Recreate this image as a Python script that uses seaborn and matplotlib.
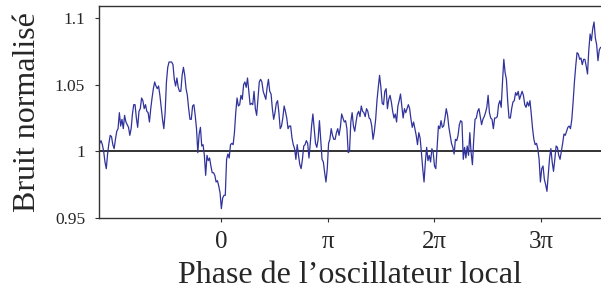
import numpy as np
import pandas as pd
import matplotlib
matplotlib.use("Agg")
import matplotlib.pyplot as plt
import seaborn as sns

# normalised noise, left to right (uniform phase steps)
noise = [
    1.006, 1.008, 1.005, 1.000, 0.992, 0.987, 0.998, 1.006, 1.012, 1.011,
    1.005, 1.002, 1.009, 1.015, 1.017, 1.029, 1.019, 1.024, 1.017, 1.027,
    1.022, 1.020, 1.018, 1.012, 1.017, 1.028, 1.035, 1.035, 1.025, 1.018,
    1.030, 1.032, 1.040, 1.038, 1.032, 1.035, 1.030, 1.029, 1.022, 1.032,
    1.040, 1.047, 1.052, 1.049, 1.047, 1.049, 1.042, 1.033, 1.024, 1.017,
    1.029, 1.052, 1.063,
    1.067, 1.067, 1.067, 1.065, 1.054, 1.049, 1.055, 1.048, 1.045, 1.045,
    1.057, 1.063, 1.057, 1.047, 1.042, 1.032, 1.024, 1.024, 1.034, 1.035,
    1.027, 1.017, 0.999, 1.013, 1.018, 1.004, 1.005, 0.997, 0.982, 0.997,
    0.993, 0.995, 0.989, 0.984, 0.984, 0.982, 0.977, 0.978, 0.974, 0.969,
    0.957, 0.965, 0.967, 0.967, 0.994, 0.998, 0.995, 1.005, 1.006, 1.005,
    1.014, 1.029, 1.040, 1.034, 1.035, 1.042,
    1.039, 1.050, 1.052, 1.048, 1.055, 1.045, 1.035, 1.036, 1.035, 1.045,
    1.032, 1.027, 1.039, 1.052, 1.054, 1.052, 1.045, 1.042, 1.039, 1.048,
    1.054, 1.045, 1.043, 1.032, 1.024, 1.029, 1.036, 1.038, 1.029, 1.017,
    1.019, 1.025, 1.034, 1.030, 1.025, 1.017, 1.019, 1.019, 1.010, 1.005,
    1.002, 0.994, 1.005, 0.997, 0.990, 0.987, 0.994, 1.004, 1.005, 1.008,
    1.006, 0.995, 1.006, 1.019, 1.028, 1.017,
    1.006, 1.003, 1.009, 1.023, 1.009, 0.994, 0.992, 0.984, 0.977, 0.987,
    1.006, 1.009, 1.017, 1.012, 1.009, 1.009, 1.014, 1.017, 1.012, 1.018,
    1.028, 1.025, 1.022, 1.023, 1.017, 0.999, 1.000, 1.022, 1.029, 1.019,
    1.015, 1.022, 1.028, 1.030, 1.026, 1.034, 1.030, 1.029, 1.026, 1.032,
    1.030, 1.025, 1.024, 1.019, 1.009, 1.015, 1.024, 1.038, 1.048, 1.057,
    1.048, 1.036, 1.035, 1.045, 1.047, 1.032,
    1.039, 1.042, 1.037, 1.030, 1.025, 1.028, 1.022, 1.034, 1.038, 1.043,
    1.034, 1.025, 1.032, 1.029, 1.032, 1.035, 1.032, 1.024, 1.018, 1.022,
    1.017, 1.012, 1.005, 1.014, 1.010, 0.999, 0.987, 0.977, 0.992, 1.003,
    0.993, 0.997, 0.992, 1.002, 0.999, 0.989, 0.987, 1.003, 1.019, 1.017,
    1.023, 1.018, 1.019, 1.025, 1.032, 1.027, 1.018, 1.012, 1.006, 1.003,
    0.998, 1.009, 1.008, 1.012, 1.020, 1.023,
    1.022, 0.994, 1.003, 0.995, 1.004, 0.997, 1.014, 0.999, 0.990, 1.009,
    1.024, 1.025, 1.030, 1.032, 1.026, 1.020, 1.024, 1.026, 1.029, 1.033,
    1.042, 1.029, 1.025, 1.024, 1.017, 1.025, 1.025, 1.026, 1.035, 1.038,
    1.033, 1.052, 1.069, 1.059, 1.054, 1.037, 1.025, 1.025, 1.032, 1.037,
    1.038, 1.044, 1.042, 1.045, 1.039, 1.042, 1.045, 1.042, 1.035, 1.033,
    1.037, 1.034, 1.038, 1.028, 1.017, 1.009, 1.005,
    1.006, 1.002, 0.994, 0.977, 0.987, 0.989, 0.979, 0.975, 0.970, 0.982,
    0.995, 1.002, 0.992, 0.985, 0.994, 1.004, 1.003, 0.997, 0.994, 1.000,
    1.006, 1.013, 1.012, 1.015, 1.018, 1.019, 1.017, 1.024, 1.037, 1.052,
    1.064, 1.074, 1.073, 1.069, 1.070, 1.065, 1.069, 1.069, 1.064, 1.058,
    1.076, 1.088, 1.083, 1.092, 1.097, 1.085, 1.080, 1.068, 1.076, 1.078,
]

# phase range covered by the trace, in units of pi
phase_start, phase_end = -1.137, 3.558
xlim_pi = (-1.144, 3.562)

xtick_pos = [0, 1, 2, 3]
xtick_labels = ["0", "π", "2π", "3π"]
ytick_pos = [0.95, 1.0, 1.05, 1.1]
ytick_labels = ["0.95", "1", "1.05", "1.1"]

df = pd.DataFrame({
    "phase": np.linspace(phase_start, phase_end, len(noise)) * np.pi,
    "noise": noise,
})

sns.set_style("ticks")
plt.rcParams["font.family"] = ["Liberation Serif", "DejaVu Serif"]

fig = plt.figure(figsize=(6.01, 2.90), dpi=100)
ax = fig.add_axes([99 / 601, 1 - 218 / 290, 502 / 601, 212 / 290])

ax.axhline(1.0, color="#222222", lw=1.3, zorder=1)
sns.lineplot(data=df, x="phase", y="noise", ax=ax, color="#31339C",
             lw=0.9, estimator=None, sort=False, zorder=2)

ax.set_xlim(xlim_pi[0] * np.pi, xlim_pi[1] * np.pi)
ax.set_ylim(0.95, 1.109)
ax.set_xticks([p * np.pi for p in xtick_pos])
ax.set_xticklabels(xtick_labels, fontsize=18)
ax.set_yticks(ytick_pos)
ax.set_yticklabels(ytick_labels, fontsize=12.5)
ax.tick_params(axis="both", direction="out", length=3, width=0.8, color="#333333")
ax.tick_params(axis="x", pad=6)
ax.tick_params(axis="y", pad=7)

ax.set_xlabel("Phase de l’oscillateur local", fontsize=23, labelpad=6)
ax.set_ylabel("Bruit normalisé", fontsize=23, labelpad=9)

for side in ["left", "top", "bottom"]:
    ax.spines[side].set_color("#333333")
    ax.spines[side].set_linewidth(1.0)
ax.spines["right"].set_visible(False)

fig.savefig("out.png", dpi=100)
